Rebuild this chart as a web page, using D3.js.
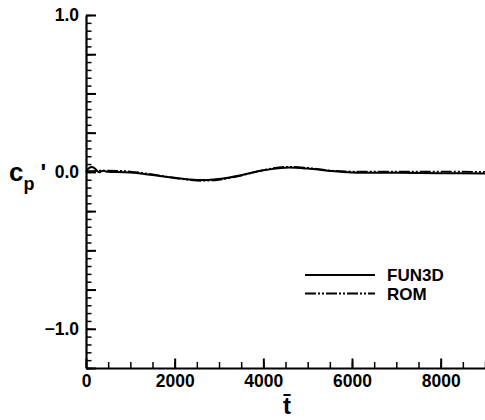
<!DOCTYPE html>
<html>
<head>
<meta charset="utf-8">
<script src="https://cdn.jsdelivr.net/npm/d3@7"></script>
<style>
  body { margin: 0; background: #fff; }
  text { font-family: "Liberation Sans", Arial, sans-serif; font-weight: bold; }
</style>
</head>
<body>
<div id="chart"></div>
<script>
// time samples (t-bar) and pressure coefficient fluctuation for both runs
const funT = [0, 50, 100, 150, 200, 250, 300, 350, 400, 450, 500, 1000, 1500, 2000, 2500, 2750, 3000, 3500, 4000, 4500, 5000, 5500, 6000, 7000, 8000, 9000];
const funCp = [0.0, 0.02, 0.03, 0.03, 0.022, 0.006, -0.003, 0.005, 0.008, 0.003, 0.001, -0.004, -0.02, -0.037, -0.051, -0.052, -0.046, -0.021, 0.01, 0.027, 0.021, 0.006, -0.004, -0.006, -0.008, -0.01];

const romT = [0, 500, 1000, 1500, 2000, 2500, 3000, 3500, 4000, 4500, 5000, 5500, 6000, 7000, 8000, 9000];
const romCp = [0.004, 0.008, 0.002, -0.016, -0.039, -0.056, -0.05, -0.023, 0.012, 0.032, 0.025, 0.009, 0.002, 0.002, 0.002, 0.0];

const legendNames = ["FUN3D", "ROM"];
const yLabels = [-1, 0, 1];

const W = 485, H = 420;

const svg = d3.select("#chart")
  .append("svg")
  .attr("width", W)
  .attr("height", H);

// scales
const x = d3.scaleLinear().domain([0, 9000]).range([86, 485]);
const y = d3.scaleLinear().domain([-1.25, 1.0]).range([368, 15]);

// y axis: minor ticks every 0.05, major every 0.25, labels on whole numbers
svg.append("g")
  .attr("transform", "translate(86,0)")
  .call(d3.axisLeft(y).tickValues(d3.range(-1.25, 1.0001, 0.05)).tickSizeInner(-5.5).tickSizeOuter(0).tickFormat(""))
  .call(g => g.select(".domain").remove())
  .call(g => g.selectAll("line").attr("stroke-width", 1.5));

svg.append("g")
  .attr("transform", "translate(86,0)")
  .call(d3.axisLeft(y).tickValues(d3.range(-1.25, 1.0001, 0.25)).tickSizeInner(-10).tickSizeOuter(0).tickPadding(7)
    .tickFormat(d => yLabels.some(v => Math.abs(v - d) < 1e-6) ? d3.format(".1f")(d) : ""))
  .call(g => g.select(".domain").attr("stroke-width", 2.2))
  .call(g => g.selectAll("line").attr("stroke-width", 2))
  .call(g => g.selectAll("text").style("font-size", "17.5px").attr("fill", "#000"));

// x axis: minor every 500, major every 2000
svg.append("g")
  .attr("transform", "translate(0,368)")
  .call(d3.axisBottom(x).tickValues(d3.range(500, 9001, 500)).tickSizeInner(-6).tickSizeOuter(0).tickFormat(""))
  .call(g => g.select(".domain").remove())
  .call(g => g.selectAll("line").attr("stroke-width", 1.5));

svg.append("g")
  .attr("transform", "translate(0,368)")
  .call(d3.axisBottom(x).tickValues(d3.range(0, 9001, 2000)).tickSizeInner(-9.5).tickSizeOuter(0).tickPadding(7)
    .tickFormat(d3.format("d")))
  .call(g => g.select(".domain").attr("stroke-width", 2.2))
  .call(g => g.selectAll("line").attr("stroke-width", 2))
  .call(g => g.selectAll("text").style("font-size", "17.5px").attr("fill", "#000"));

// axis titles
const yt = svg.append("text").attr("x", 9).attr("y", 181).style("font-size", "26px");
yt.append("tspan").text("c");
yt.append("tspan").attr("dy", 9).style("font-size", "18px").text("p");
yt.append("tspan").attr("dx", 6).attr("dy", -9).style("font-size", "24px").text("'");

svg.append("text")
  .attr("x", 287).attr("y", 414)
  .attr("text-anchor", "middle")
  .style("font-size", "24px")
  .text("t\u0304");

// curves
const line = d3.line()
  .x(d => x(d[0]))
  .y(d => y(d[1]))
  .curve(d3.curveCatmullRom);

svg.append("path")
  .datum(d3.zip(funT, funCp))
  .attr("fill", "none")
  .attr("stroke", "#000")
  .attr("stroke-width", 2)
  .attr("d", line);

const romDash = "11,2,2,2,2,2";

svg.append("path")
  .datum(d3.zip(romT, romCp))
  .attr("fill", "none")
  .attr("stroke", "#000")
  .attr("stroke-width", 1.8)
  .attr("stroke-dasharray", romDash)
  .attr("d", line);

// legend
const legend = svg.append("g");
legendNames.forEach((name, i) => {
  const ly = 275 + i * 18.5;
  legend.append("line")
    .attr("x1", 305).attr("x2", 375)
    .attr("y1", ly).attr("y2", ly)
    .attr("stroke", "#000")
    .attr("stroke-width", 1.8)
    .attr("stroke-dasharray", i === 0 ? null : romDash);
  legend.append("text")
    .attr("x", 387).attr("y", ly + 6)
    .style("font-size", "17px")
    .text(name);
});
</script>
</body>
</html>
